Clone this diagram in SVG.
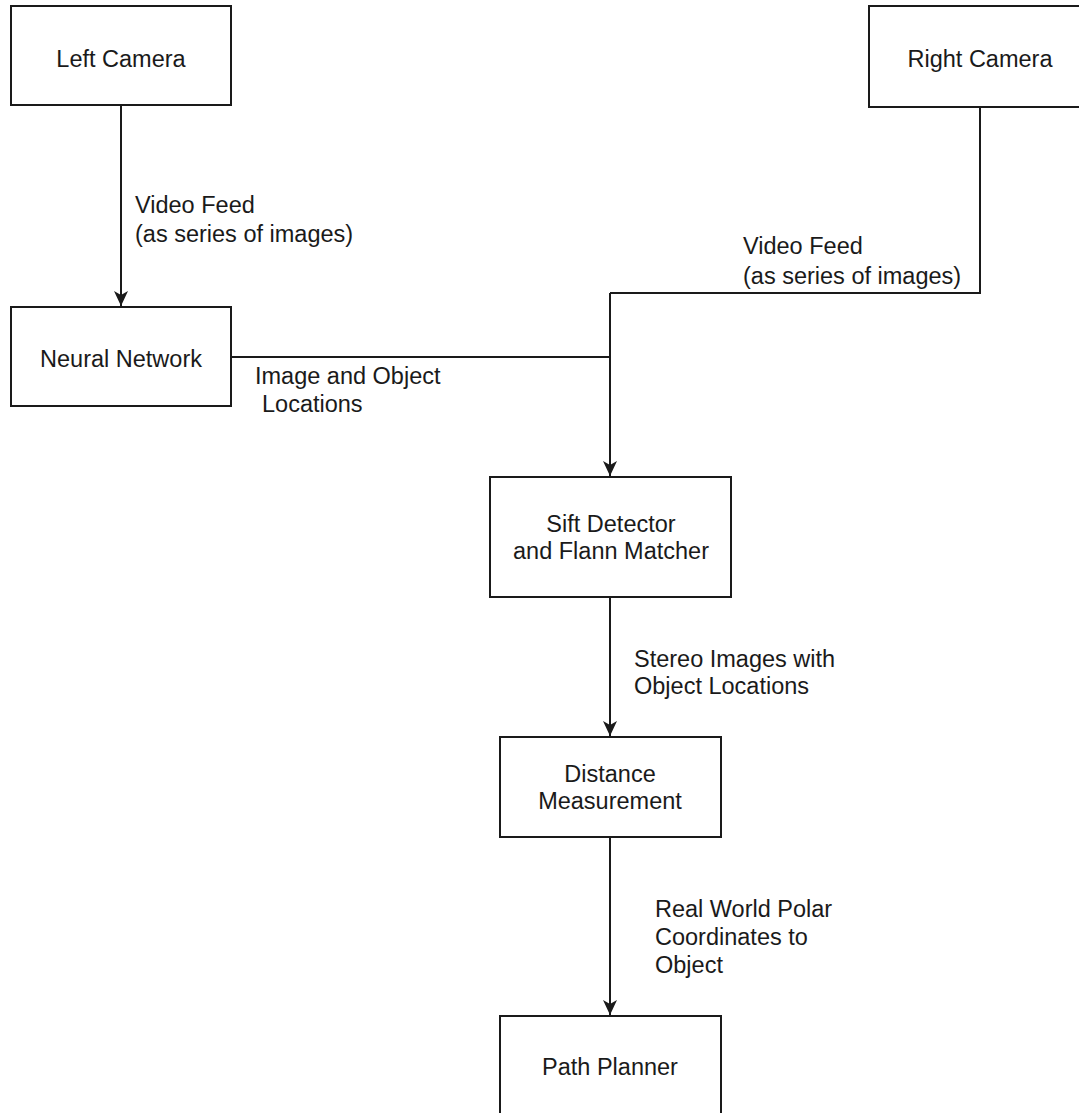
<svg xmlns="http://www.w3.org/2000/svg" width="1079" height="1113" viewBox="0 0 1079 1113">
<defs>
<style>
.box{fill:#fff;stroke:#1a1a1a;stroke-width:2}
.ln{fill:none;stroke:#1a1a1a;stroke-width:2}
text{font-family:"Liberation Sans",Arial,Helvetica,sans-serif;font-size:23.5px;fill:#1a1a1a}
.c{text-anchor:middle}
</style>
<marker id="ah" markerWidth="16" markerHeight="16" viewBox="0 0 16 16" refX="15" refY="8" orient="auto" markerUnits="userSpaceOnUse">
<path d="M0,1 L15,8 L0,15 L4,8 Z" fill="#1a1a1a"/>
</marker>
</defs>
<rect width="1079" height="1113" fill="#fff"/>
<g id="connectors">
<line class="ln" x1="121" y1="105" x2="121" y2="306" marker-end="url(#ah)"/>
<polyline class="ln" points="980,107 980,293 610,293"/>
<polyline class="ln" points="231,357 610,357"/>
<line class="ln" x1="610" y1="293" x2="610" y2="476" marker-end="url(#ah)"/>
<line class="ln" x1="610" y1="597" x2="610" y2="736" marker-end="url(#ah)"/>
<line class="ln" x1="610" y1="837" x2="610" y2="1015" marker-end="url(#ah)"/>
<text x="135" y="213">Video Feed</text>
<text x="135" y="242">(as series of images)</text>
<text x="743" y="254">Video Feed</text>
<text x="743" y="284">(as series of images)</text>
<text x="255" y="384">Image and Object</text>
<text x="262" y="412">Locations</text>
<text x="634" y="667">Stereo Images with</text>
<text x="634" y="694">Object Locations</text>
<text x="655" y="917">Real World Polar</text>
<text x="655" y="945">Coordinates to</text>
<text x="655" y="973">Object</text>
</g>
<g id="left-camera"><rect class="box" x="11" y="6" width="220" height="99"/><text class="c" x="121" y="67">Left Camera</text></g>
<g id="right-camera"><rect class="box" x="869" y="6" width="222" height="101"/><text class="c" x="980" y="67">Right Camera</text></g>
<g id="neural-network"><rect class="box" x="11" y="307" width="220" height="99"/><text class="c" x="121" y="367">Neural Network</text></g>
<g id="sift"><rect class="box" x="490" y="477" width="241" height="120"/><text class="c" x="611" y="532">Sift Detector</text><text class="c" x="611" y="559">and Flann Matcher</text></g>
<g id="distance"><rect class="box" x="500" y="737" width="221" height="100"/><text class="c" x="610" y="782">Distance</text><text class="c" x="610" y="809">Measurement</text></g>
<g id="path-planner"><rect class="box" x="500" y="1016" width="221" height="110"/><text class="c" x="610" y="1075">Path Planner</text></g>
</svg>
